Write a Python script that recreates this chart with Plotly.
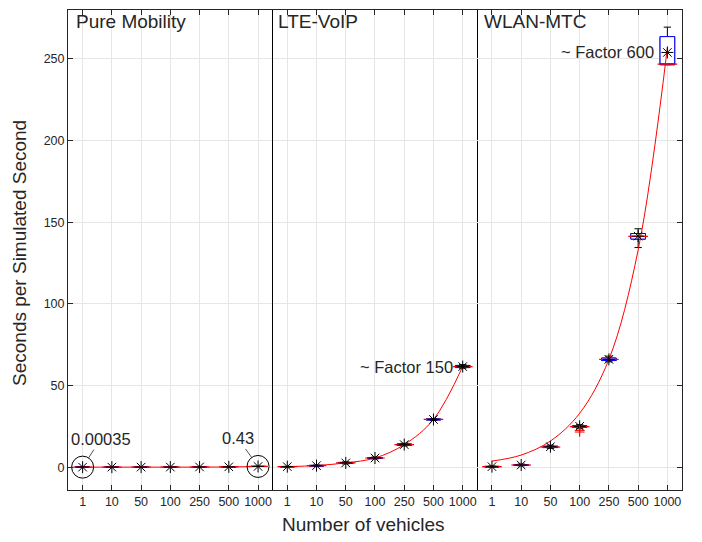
import plotly.graph_objects as go
from plotly.subplots import make_subplots

categories = ["1", "10", "50", "100", "250", "500", "1000"]
panels = ["Pure Mobility", "LTE-VoIP", "WLAN-MTC"]

# Pure Mobility
pm_mean = [0.00035, 0.004, 0.02, 0.04, 0.1, 0.2, 0.43]
pm_q1 = [0.0003, 0.003, 0.015, 0.035, 0.09, 0.18, 0.40]
pm_med = [0.00035, 0.004, 0.02, 0.04, 0.1, 0.2, 0.43]
pm_q3 = [0.0004, 0.005, 0.025, 0.045, 0.11, 0.22, 0.46]
pm_lo = [0.0002, 0.002, 0.01, 0.03, 0.08, 0.16, 0.38]
pm_hi = [0.0005, 0.006, 0.03, 0.05, 0.12, 0.24, 0.48]
pm_fit = [0.0, 0.0, 0.0, 0.0, 0.0, 0.1, 0.43]

# LTE-VoIP
lte_mean = [0.3, 0.9, 2.6, 5.6, 13.8, 29.2, 61.6]
lte_q1 = [0.2, 0.7, 2.3, 5.3, 13.4, 28.9, 61.0]
lte_med = [0.3, 0.9, 2.6, 5.6, 13.8, 29.2, 61.6]
lte_q3 = [0.4, 1.1, 2.9, 5.9, 14.2, 29.5, 62.3]
lte_lo = [0.1, 0.5, 2.0, 5.0, 13.0, 28.6, 60.6]
lte_hi = [0.5, 1.3, 3.2, 6.2, 14.6, 29.8, 62.8]
lte_fit = [0.3, 1.0, 2.6, 5.6, 13.8, 29.2, 61.6]

# WLAN-MTC
wl_mean = [0.3, 1.3, 12.5, 25.0, 66.0, 141.5, 254.0]
wl_q1 = [0.1, 1.0, 12.0, 24.5, 65.3, 139.7, 246.5]
wl_med = [0.3, 1.3, 12.3, 24.8, 66.0, 141.3, 246.8]
wl_q3 = [0.5, 1.6, 12.8, 25.3, 66.8, 143.1, 263.7]
wl_lo = [0.0, 0.8, 11.5, 23.5, 64.5, 134.5, 246.5]
wl_hi = [0.7, 1.9, 13.5, 26.0, 68.0, 146.0, 269.5]
wl_fit = [3.7, 7.4, 16.0, 33.0, 66.0, 133.0, 257.0]
wl_out_x = [3, 3]
wl_out_y = [22.5, 21.5]

TXT = "#262626"
FAM = "Liberation Sans, Arial, sans-serif"
idx = list(range(len(categories)))

fig = make_subplots(rows=1, cols=3, shared_yaxes=True, horizontal_spacing=0)

data = [
    (pm_mean, pm_q1, pm_med, pm_q3, pm_lo, pm_hi, pm_fit),
    (lte_mean, lte_q1, lte_med, lte_q3, lte_lo, lte_hi, lte_fit),
    (wl_mean, wl_q1, wl_med, wl_q3, wl_lo, wl_hi, wl_fit),
]

for c, (mean, q1, med, q3, lo, hi, fit) in enumerate(data, start=1):
    # whiskers (black)
    fig.add_trace(go.Box(x=idx, q1=q1, median=med, q3=q3, lowerfence=lo, upperfence=hi,
                         width=0.5, whiskerwidth=0.5, line=dict(color="black", width=1),
                         fillcolor="rgba(0,0,0,0)", showlegend=False, hoverinfo="skip",
                         boxpoints=False), row=1, col=c)
    # box (blue)
    fig.add_trace(go.Box(x=idx, q1=q1, median=med, q3=q3, lowerfence=q1, upperfence=q3,
                         width=0.5, whiskerwidth=0, line=dict(color="blue", width=1),
                         fillcolor="white", showlegend=False, hoverinfo="skip",
                         boxpoints=False), row=1, col=c)
    # median (red)
    fig.add_trace(go.Scatter(x=idx, y=med, mode="markers",
                             marker=dict(symbol="line-ew", size=14, color="red",
                                         line=dict(color="red", width=1.2)),
                             showlegend=False, hoverinfo="skip"), row=1, col=c)
    # fit curve
    fig.add_trace(go.Scatter(x=idx, y=fit, mode="lines",
                             line=dict(color="red", width=1, shape="spline", smoothing=1),
                             showlegend=False, hoverinfo="skip"), row=1, col=c)
    # means
    fig.add_trace(go.Scatter(x=idx, y=mean, mode="markers",
                             marker=dict(symbol="asterisk-open", size=10, color="black",
                                         line=dict(color="black", width=1)),
                             showlegend=False, hoverinfo="skip"), row=1, col=c)

fig.add_trace(go.Scatter(x=wl_out_x, y=wl_out_y, mode="markers",
                         marker=dict(symbol="cross-thin-open", size=7, color="red",
                                     line=dict(color="red", width=1)),
                         showlegend=False, hoverinfo="skip"), row=1, col=3)

# circles around Pure Mobility extremes
fig.add_trace(go.Scatter(x=[idx[0], idx[-1]], y=[pm_mean[0], pm_mean[-1]], mode="markers",
                         marker=dict(symbol="circle-open", size=22, color="black",
                                     line=dict(color="black", width=1)),
                         showlegend=False, hoverinfo="skip"), row=1, col=1)

axfont = dict(family=FAM, size=12.5, color=TXT)
for c in range(1, 4):
    fig.update_xaxes(row=1, col=c, range=[-0.5, 6.5], tickvals=idx, ticktext=categories,
                     showline=True, linecolor=TXT, linewidth=1, mirror="ticks",
                     ticks="inside", ticklen=5, tickcolor=TXT,
                     showgrid=True, gridcolor="#e6e6e6", gridwidth=1,
                     zeroline=False, tickfont=axfont)

yax = dict(range=[-14, 280], tickvals=[0, 50, 100, 150, 200, 250],
           showgrid=True, gridcolor="#e6e6e6", gridwidth=1, zeroline=False,
           tickfont=axfont)
fig.update_yaxes(row=1, col=1, showline=True, linecolor=TXT, linewidth=1,
                 ticks="inside", ticklen=5, tickcolor=TXT, **yax)
fig.update_yaxes(row=1, col=2, showline=True, linecolor="black", linewidth=1,
                 mirror=True, ticks="", showticklabels=False, **yax)
fig.update_yaxes(row=1, col=3, showline=True, linecolor=TXT, linewidth=1,
                 side="right", ticks="inside", ticklen=5, tickcolor=TXT,
                 showticklabels=False, **yax)

tfont = dict(family=FAM, size=19, color=TXT)
afont = dict(family=FAM, size=16.5, color=TXT)
ann = []
for c, (name, xo) in enumerate(zip(panels, [0.03, 0.016, 0.025]), start=1):
    xr = "x domain" if c == 1 else f"x{c} domain"
    ann.append(dict(text=name, xref=xr, yref="paper", x=xo, y=0.977,
                    xanchor="left", yanchor="middle", showarrow=False, font=tfont))

ann.append(dict(text="~ Factor 150", xref="x2", yref="y2", x=idx[-1], y=lte_mean[-1],
                xanchor="right", yanchor="middle", xshift=-8, showarrow=False, font=afont))
ann.append(dict(text="~ Factor 600", xref="x3", yref="y3", x=idx[-1], y=wl_mean[-1],
                xanchor="right", yanchor="middle", xshift=-11, showarrow=False, font=afont))
ann.append(dict(text="0.00035", xref="x", yref="y", x=idx[0], y=pm_mean[0],
                ax=18, ay=-28, showarrow=True, arrowhead=0, arrowwidth=0.8,
                arrowcolor=TXT, standoff=11, font=afont))
ann.append(dict(text="0.43", xref="x", yref="y", x=idx[-1], y=pm_mean[-1],
                ax=-20, ay=-28, showarrow=True, arrowhead=0, arrowwidth=0.8,
                arrowcolor=TXT, standoff=11, font=afont))
ann.append(dict(text="Number of vehicles", xref="paper", yref="paper", x=0.4805, y=-0.071,
                xanchor="center", yanchor="middle", showarrow=False, font=tfont))
ann.append(dict(text="Seconds per Simulated Second", xref="paper", yref="paper",
                x=-0.078, y=0.494, xanchor="center", yanchor="middle", textangle=-90,
                showarrow=False, font=tfont))

fig.update_layout(width=702, height=542, margin=dict(l=68, r=20, t=10, b=52),
                  plot_bgcolor="white", paper_bgcolor="white", boxmode="overlay",
                  annotations=ann, showlegend=False)

fig.write_html("out.html", config={"displayModeBar": False},
               post_script="document.body.style.margin='0';")
